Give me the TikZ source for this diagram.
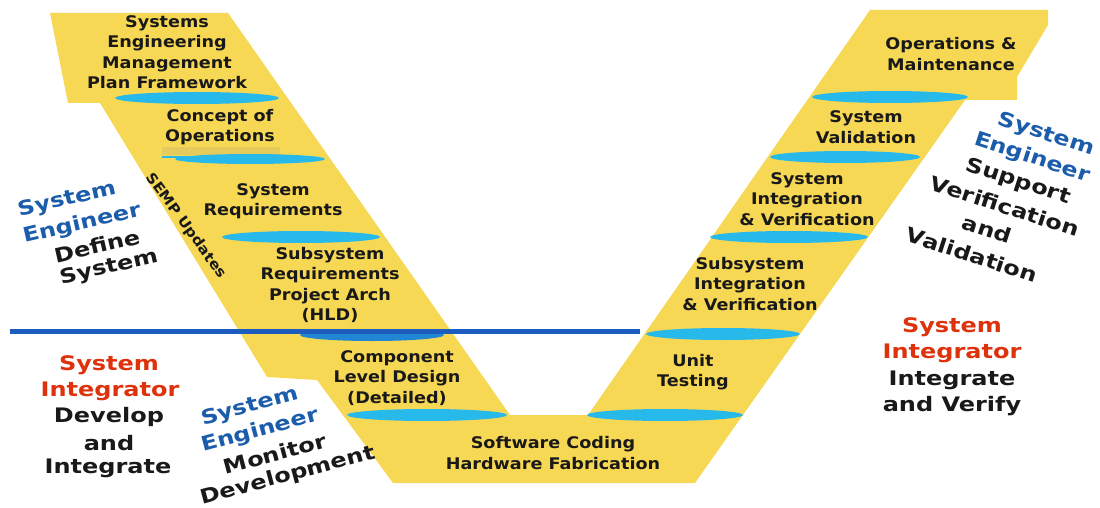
\documentclass[tikz,border=0pt]{standalone}
\usepackage{fontspec}
\usepackage{xcolor}
\usepackage{tikz}
\usetikzlibrary{positioning}

\newfontfamily\phasefont{DejaVu Sans Bold}[FakeStretch=1.1]
\newfontfamily\rolefont{DejaVu Sans Bold}[FakeStretch=1.2]

\definecolor{vyellow}{RGB}{247,216,84}
\definecolor{gateblue}{RGB}{40,185,235}
\definecolor{lineblue}{RGB}{28,92,191}
\definecolor{engblue}{RGB}{27,93,170}
\definecolor{intred}{RGB}{222,50,12}
\definecolor{textblack}{RGB}{25,25,25}

\begin{document}
\begin{tikzpicture}[x=1pt,y=-1pt,
    phase/.style={font=\phasefont\fontsize{16}{20.5}\selectfont, align=center, text=textblack, inner sep=0pt},
    role/.style={font=\rolefont\fontsize{20}{26}\selectfont, inner sep=0pt, text=textblack},
    eng/.style={role, text=engblue},
    integ/.style={role, text=intred},
    gate/.style={fill=gateblue}]
        \useasboundingbox (0,0) rectangle (1100,508);
        % the V
        \fill[vyellow] (50,13) -- (228,13) -- (510,415) -- (588,415) -- (870,10) -- (1048,10)
            -- (1048,25) -- (1017,77) -- (1017,100) -- (965,100) -- (695,483) -- (393,483)
            -- (317,380) -- (267,377) -- (100,103) -- (68,103) -- cycle;
        % phase gates, left arm
        \fill[gate] (197,98) ellipse (82 and 6);
        \fill[vyellow!85!gray] (162,147) rectangle (280,155);
        \fill[gate] (250,159) ellipse (75 and 5);
        \draw[gateblue, line width=2.5pt] (162,157) -- (280,157);
        \fill[gate] (301,237) ellipse (79 and 6);
        \fill[lineblue!55!gateblue] (372,335) ellipse (72 and 6);
        \fill[gate] (427,415) ellipse (80 and 6);
        % phase gates, right arm
        \fill[gate] (665,415) ellipse (78 and 6);
        \fill[gate] (723,334) ellipse (77 and 6);
        \fill[gate] (789,237) ellipse (79 and 6);
        \fill[gate] (845,157) ellipse (75 and 6);
        \fill[gate] (890,97) ellipse (78 and 6);
        % boundary engineer / integrator
        \draw[lineblue, line width=5pt] (10,331) -- (640,331);

        % phases
        \node[phase] (semp) at (167,52) {Systems\\Engineering\\Management\\Plan Framework};
        \node[phase] (conops) at (220,127) {Concept of\\Operations};
        \node[phase] (sysreq) at (273,201) {System\\Requirements};
        \node[phase] (subreq) at (330,285) {Subsystem\\Requirements\\Project Arch\\(HLD)};
        \node[phase] (comp) at (397,378) {Component\\Level Design\\(Detailed)};
        \node[phase] (code) at (553,453) {Software Coding\\Hardware Fabrication};
        \node[phase] (unit) at (693,372) {Unit\\Testing};
        \node[phase] (subint) at (750,284) {Subsystem\\Integration\\\& Verification};
        \node[phase] (sysint) at (807,199) {System\\Integration\\\& Verification};
        \node[phase] (sysval) at (866,127) {System\\Validation};
        \node[phase] (om) at (951,54) {Operations \&\\Maintenance};
        \node[phase, font=\phasefont\fontsize{14}{16}\selectfont, rotate=-54] (sempup) at (186,226) {SEMP Updates};

        % system engineer, define
        \node[eng, rotate=13] (defA) at (67,200) {System};
        \node[eng, rotate=13] (defB) at (82,224) {Engineer};
        \node[role, rotate=13] (defC) at (97,246) {Define};
        \node[role, rotate=13] (defD) at (109,268) {System};
        % system integrator, develop
        \node[integ] (devA) at (109,365) {System};
        \node[integ] (devB) at (110,391) {Integrator};
        \node[role] (devC) at (109,417) {Develop};
        \node[role] (devD) at (109,443) {and};
        \node[role] (devE) at (108,468) {Integrate};
        % system engineer, monitor
        \node[eng, rotate=15] (monA) at (250,407) {System};
        \node[eng, rotate=15] (monB) at (260,431) {Engineer};
        \node[role, rotate=15] (monC) at (275,454) {Monitor};
        \node[role, rotate=15] (monD) at (288,476) {Development};
        % system engineer, support
        \node[eng, rotate=-18] (supA) at (1046,135) {System};
        \node[eng, rotate=-18] (supB) at (1032,158) {Engineer};
        \node[role, rotate=-18] (supC) at (1018,182) {Support};
        \node[role, rotate=-18] (supD) at (1005,206) {Verification};
        \node[role, rotate=-18] (supE) at (987,229) {and};
        \node[role, rotate=-18] (supF) at (972,255) {Validation};
        % system integrator, verify
        \node[integ] (verA) at (952,327) {System};
        \node[integ] (verB) at (952,353) {Integrator};
        \node[role] (verC) at (952,380) {Integrate};
        \node[role] (verD) at (952,406) {and Verify};
    \end{tikzpicture}
\end{document}
